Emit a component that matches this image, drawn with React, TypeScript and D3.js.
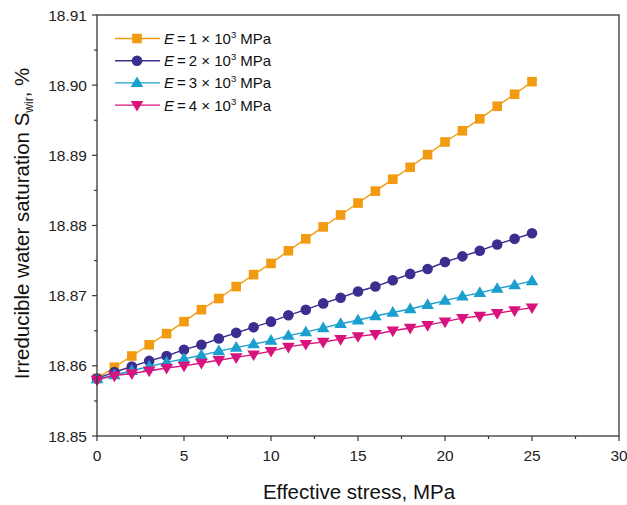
import React from "react";
import * as d3 from "d3";

const stress = [0,1,2,3,4,5,6,7,8,9,10,11,12,13,14,15,16,17,18,19,20,21,22,23,24,25];
const sE1 = [18.8582,18.8598,18.8614,18.8630,18.8646,18.8663,18.8680,18.8696,18.8713,18.8730,18.8746,18.8764,18.8781,18.8798,18.8815,18.8832,18.8849,18.8866,18.8883,18.8901,18.8919,18.8935,18.8952,18.8970,18.8987,18.9005];
const sE2 = [18.8582,18.8591,18.8599,18.8607,18.8614,18.8623,18.8630,18.8639,18.8647,18.8655,18.8663,18.8672,18.8680,18.8689,18.8697,18.8706,18.8713,18.8722,18.8731,18.8738,18.8748,18.8756,18.8764,18.8773,18.8781,18.8789];
const sE3 = [18.8581,18.8587,18.8593,18.8599,18.8605,18.8610,18.8615,18.8621,18.8626,18.8631,18.8636,18.8643,18.8648,18.8654,18.8660,18.8665,18.8671,18.8676,18.8681,18.8687,18.8693,18.8699,18.8704,18.8710,18.8715,18.8721];
const sE4 = [18.8580,18.8586,18.8589,18.8593,18.8597,18.8600,18.8604,18.8608,18.8612,18.8616,18.8621,18.8627,18.8631,18.8634,18.8638,18.8642,18.8645,18.8650,18.8654,18.8658,18.8663,18.8668,18.8671,18.8675,18.8679,18.8683];
const legendE = ["1", "2", "3", "4"];
const xTicks = [0, 5, 10, 15, 20, 25, 30];
const yTicks = [18.85, 18.86, 18.87, 18.88, 18.89, 18.9, 18.91];

const series = [
  { values: sE1, color: "#F29B11", marker: "square" },
  { values: sE2, color: "#3A2E8F", marker: "circle" },
  { values: sE3, color: "#1A9FCF", marker: "triangle" },
  { values: sE4, color: "#D9137E", marker: "triangleDown" },
];

const FONT = "'Liberation Sans', Arial, sans-serif";

function Marker({ type, x, y, color }: { type: string; x: number; y: number; color: string }) {
  if (type === "square") return <rect x={x - 4.8} y={y - 4.8} width={9.6} height={9.6} fill={color} />;
  if (type === "circle") return <circle cx={x} cy={y} r={5.3} fill={color} />;
  if (type === "triangle") return <path d={`M${x},${y - 6.5} L${x + 6.3},${y + 4.2} L${x - 6.3},${y + 4.2} Z`} fill={color} />;
  return <path d={`M${x},${y + 6.5} L${x + 6.3},${y - 4.2} L${x - 6.3},${y - 4.2} Z`} fill={color} />;
}

export default function App() {
  const W = 627, H = 505;
  const left = 97, right = 619, top = 15, bottom = 436;
  const x = d3.scaleLinear().domain([0, 30]).range([left, right]);
  const y = d3.scaleLinear().domain([18.85, 18.91]).range([bottom, top]);
  const line = d3.line<number>().x((_, i) => x(stress[i])).y((v) => y(v));
  const axisColor = "#3b3636";
  const xMinor = d3.range(0, 30.01, 2.5);
  const yMinor = d3.range(0, 13).map((i) => 18.85 + i * 0.005);

  return (
    <svg width={W} height={H} style={{ position: "absolute", left: 0, top: 0 }} fontFamily={FONT}>
      <rect x={0} y={0} width={W} height={H} fill="#fff" />
      {series.map((s, si) => (
        <g key={si}>
          <path d={line(s.values) || ""} fill="none" stroke={s.color} strokeWidth={1.4} />
          {s.values.map((v, i) => (
            <Marker key={i} type={s.marker} x={x(stress[i])} y={y(v)} color={s.color} />
          ))}
        </g>
      ))}
      {/* frame */}
      <rect x={left} y={top} width={right - left} height={bottom - top} fill="none" stroke={axisColor} strokeWidth={1.3} />
      {/* x ticks */}
      {xMinor.map((t, i) => (
        <line key={"xm" + i} x1={x(t)} x2={x(t)} y1={bottom} y2={bottom + (t % 5 === 0 ? 5 : 3)} stroke={axisColor} strokeWidth={1.2} />
      ))}
      {xTicks.map((t) => (
        <text key={"xt" + t} x={x(t)} y={bottom + 25} textAnchor="middle" fontSize={15.5} fill="#222">{t}</text>
      ))}
      {/* y ticks */}
      {yMinor.map((t, i) => (
        <line key={"ym" + i} x1={left} x2={left - (i % 2 === 0 ? 5 : 3)} y1={y(t)} y2={y(t)} stroke={axisColor} strokeWidth={1.2} />
      ))}
      {yTicks.map((t) => (
        <text key={"yt" + t} x={left - 10} y={y(t) + 5.5} textAnchor="end" fontSize={15.5} fill="#222">{t.toFixed(2)}</text>
      ))}
      {/* axis titles */}
      <text x={359} y={499} textAnchor="middle" fontSize={20.5} fill="#111">Effective stress, MPa</text>
      <text transform={`translate(29, ${(top + bottom) / 2 - 2}) rotate(-90)`} textAnchor="middle" fontSize={20.5} fill="#111">
        Irreducible water saturation S<tspan fontSize={12} dy={4}>wir</tspan><tspan dy={-4}>,  %</tspan>
      </text>
      {/* legend */}
      {series.map((s, i) => {
        const ly = 38.5 + i * 22.2;
        return (
          <g key={"lg" + i}>
            <line x1={115} x2={160} y1={ly} y2={ly} stroke={s.color} strokeWidth={1.4} />
            <Marker type={s.marker} x={137} y={ly} color={s.color} />
            <text x={164} y={ly + 5.5} fontSize={15} fill="#111">
              <tspan fontStyle="italic">E</tspan>
              <tspan>{"\u2009=\u2009"}{legendE[i]} × 10</tspan>
              <tspan fontSize={9.5} dy={-6}>3</tspan>
              <tspan dy={6}> MPa</tspan>
            </text>
          </g>
        );
      })}
    </svg>
  );
}
